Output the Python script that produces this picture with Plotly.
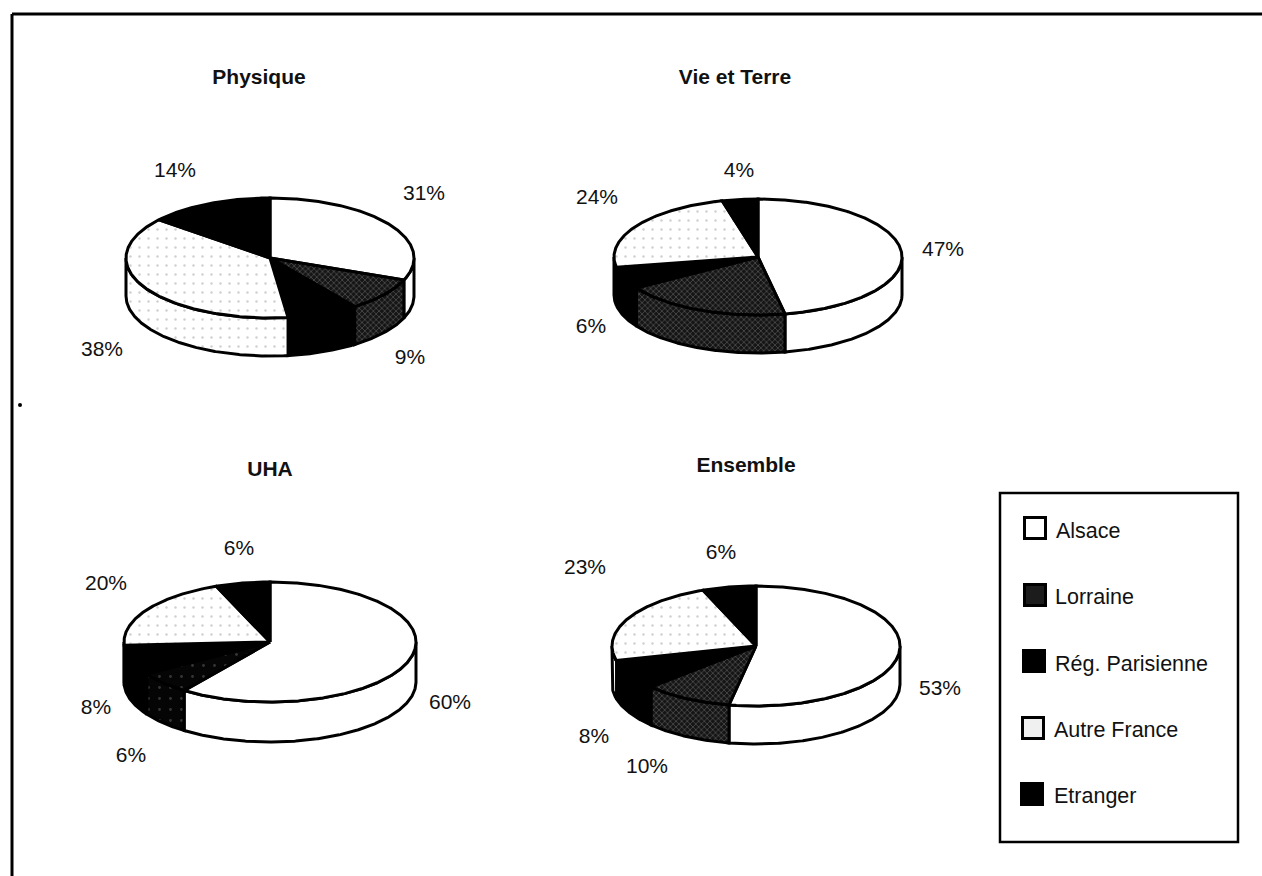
import numpy as np
import plotly.graph_objects as go

# ---- data ----
categories = ["Alsace", "Lorraine", "Rég. Parisienne", "Autre France", "Etranger"]
pie_titles = ["Physique", "Vie et Terre", "UHA", "Ensemble"]
physique = [31, 9, 8, 38, 14]
vie_et_terre = [47, 19, 6, 24, 4]
uha = [60, 6, 8, 20, 6]
ensemble = [53, 10, 8, 23, 6]
all_values = [physique, vie_et_terre, uha, ensemble]

# ---- layout (pixels of the page) ----
W, H = 1262, 876
GEOM = [  # cx, cy, rx, ry, depth
    (270, 258, 144, 60, 38),
    (758, 257, 144, 58, 38),
    (270, 642, 146, 60, 40),
    (756, 646, 144, 60, 38),
]
TITLE_POS = [(259, 78.5), (735, 79), (270, 471), (746, 467)]
LABEL_POS = [
    [(424, 195), (410, 359), None, (102, 351), (175, 172)],
    [(943, 251), None, (591, 328), (597, 199), (739, 172)],
    [(450, 704), (131, 757), (96, 709), (106, 585), (239, 550)],
    [(940, 690), (647, 768), (594, 738), (585, 569), (721, 554)],
]
LEG_SW_Y = [528, 595, 661, 728, 794]
LEG_TX_Y = [533, 599, 666, 732, 798]
LEG_SW_X = [1035, 1035, 1034, 1033, 1032]
LEG_TX_X = [1056, 1055, 1055, 1054, 1054]

FONT = "Liberation Sans, Arial, sans-serif"
BLACK = "#000000"


def style(i, pie):
    if i == 0:
        return dict(fillcolor="#ffffff")
    if i == 1:
        if pie == 2:
            return dict(fillcolor="#050505",
                        fillpattern=dict(shape=".", size=11, solidity=0.05, fgcolor="#666666", bgcolor="#050505"))
        return dict(fillcolor="#333333",
                    fillpattern=dict(shape="x", size=4, solidity=0.35, fgcolor="#8a8a8a", bgcolor="#151515"))
    if i == 3:
        return dict(fillcolor="#fafafa",
                    fillpattern=dict(shape=".", size=9, solidity=0.06, fgcolor="#a0a0a0", bgcolor="#ffffff"))
    return dict(fillcolor=BLACK)


def arc(cx, cy, rx, ry, a0, a1, dy=0.0):
    t = np.radians(np.linspace(a0, a1, max(int(abs(a1 - a0)) * 2, 2)))
    return cx + rx * np.sin(t), cy - ry * np.cos(t) + dy


fig = go.Figure()

for p, vals in enumerate(all_values):
    cx, cy, rx, ry, d = GEOM[p]
    edges = np.cumsum([0] + vals) / sum(vals) * 360.0

    # side wall of the disc (front half only)
    for i in range(len(vals)):
        a0, a1 = max(edges[i], 90.0), min(edges[i + 1], 270.0)
        if a1 <= a0:
            continue
        xt, yt = arc(cx, cy, rx, ry, a0, a1)
        xb, yb = arc(cx, cy, rx, ry, a1, a0, d)
        fig.add_trace(go.Scatter(
            x=np.r_[xt, xb, xt[0]], y=np.r_[yt, yb, yt[0]],
            mode="lines", fill="toself", line=dict(color=BLACK, width=3),
            name=f"{pie_titles[p]} {categories[i]} (side)", hoverinfo="skip", **style(i, p)))

    # top face
    for i in range(len(vals)):
        xa, ya = arc(cx, cy, rx, ry, edges[i], edges[i + 1])
        fig.add_trace(go.Scatter(
            x=np.r_[cx, xa, cx], y=np.r_[cy, ya, cy],
            mode="lines", fill="toself", line=dict(color=BLACK, width=3),
            name=f"{pie_titles[p]} {categories[i]}", **style(i, p)))

    # percentage labels
    shown = [(pos, v) for pos, v in zip(LABEL_POS[p], vals) if pos is not None]
    fig.add_trace(go.Scatter(
        x=[s[0][0] for s in shown], y=[s[0][1] for s in shown],
        text=[f"{s[1]}%" for s in shown], mode="text", textposition="middle center",
        textfont=dict(family=FONT, size=21, color="#111111"), hoverinfo="skip"))

# pie titles
fig.add_trace(go.Scatter(
    x=[t[0] for t in TITLE_POS], y=[t[1] for t in TITLE_POS],
    text=[f"<b>{t}</b>" for t in pie_titles], mode="text", textposition="middle center",
    textfont=dict(family=FONT, size=21, color="#111111"), hoverinfo="skip"))

# legend
SW_COL = ["#ffffff", "#1c1c1c", BLACK, "#f0f0f0", BLACK]
fig.add_trace(go.Scatter(
    x=LEG_SW_X, y=LEG_SW_Y, mode="markers",
    marker=dict(symbol="square", size=21, color=SW_COL, line=dict(color=BLACK, width=3)),
    hoverinfo="skip"))
fig.add_trace(go.Scatter(
    x=LEG_TX_X, y=LEG_TX_Y, text=categories, mode="text", textposition="middle right",
    textfont=dict(family=FONT, size=21.5, color="#111111"), hoverinfo="skip"))

fig.update_layout(
    width=W, height=H, showlegend=False, autosize=False,
    margin=dict(l=0, r=0, t=0, b=0),
    paper_bgcolor="white", plot_bgcolor="white",
    xaxis=dict(range=[0, W], visible=False, fixedrange=True),
    yaxis=dict(range=[H, 0], visible=False, fixedrange=True),
    shapes=[
        dict(type="line", x0=12, y0=14, x1=W, y1=14, line=dict(color=BLACK, width=3)),
        dict(type="line", x0=12, y0=14, x1=12, y1=H, line=dict(color=BLACK, width=3)),
        dict(type="rect", x0=1000, y0=493, x1=1238, y1=842, line=dict(color=BLACK, width=2.5)),
        dict(type="circle", x0=18, y0=403, x1=22, y1=407, fillcolor=BLACK, line=dict(width=0)),
    ],
)

fig.write_html("out.html", config=dict(displayModeBar=False),
               post_script="document.body.style.margin='0';document.documentElement.style.overflow='hidden';")
